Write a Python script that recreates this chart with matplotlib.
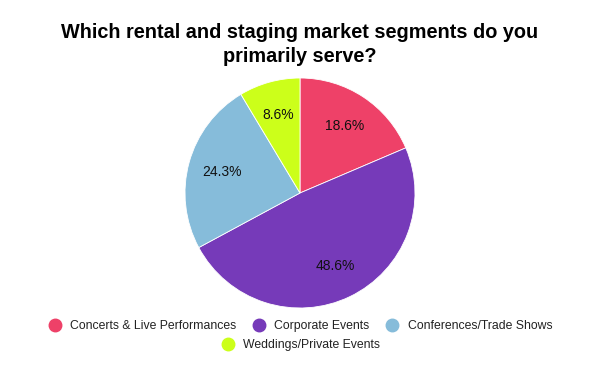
import matplotlib.pyplot as plt
from matplotlib.lines import Line2D

plt.rcParams["font.family"] = ["Liberation Sans", "DejaVu Sans"]

# Survey data
segments = ["Concerts & Live Performances", "Corporate Events",
            "Conferences/Trade Shows", "Weddings/Private Events"]
shares = [18.6, 48.6, 24.3, 8.6]
colors = ["#EE4168", "#763AB9", "#86BCDA", "#CCFF1A"]

fig = plt.figure(figsize=(6, 3.71), dpi=100, facecolor="white")

fig.text(0.5, 1 - 32 / 371, "Which rental and staging market segments do you",
         ha="center", va="center", fontsize=14.3, fontweight="bold", color="#000000")
fig.text(0.5, 1 - 57 / 371, "primarily serve?",
         ha="center", va="center", fontsize=14.3, fontweight="bold", color="#000000")

ax = fig.add_axes([185 / 600, 63 / 371, 230 / 600, 230 / 371])
ax.pie(shares, colors=colors, startangle=90, counterclock=False,
       autopct="%.1f%%", pctdistance=0.7, radius=1,
       wedgeprops=dict(linewidth=0.6, edgecolor="white"),
       textprops=dict(fontsize=10, color="#111111"))
ax.set_xlim(-1, 1)
ax.set_ylim(-1, 1)
ax.set_aspect("equal")
ax.axis("off")


def handle(c):
    return Line2D([], [], marker="o", linestyle="", markersize=9,
                  markerfacecolor=c, markeredgecolor=c)


fig.legend([handle(c) for c in colors[:3]], segments[:3],
           loc="center", bbox_to_anchor=(0.5, 1 - 326 / 371), ncol=3,
           frameon=False, fontsize=8.8, handletextpad=0.65, columnspacing=1.25,
           handlelength=1.2, labelcolor="#222222")
fig.legend([handle(colors[3])], segments[3:],
           loc="center", bbox_to_anchor=(0.5, 1 - 345 / 371), ncol=1,
           frameon=False, fontsize=8.8, handletextpad=0.65,
           handlelength=1.2, labelcolor="#222222")

fig.savefig("out.png", dpi=100, facecolor="white")
